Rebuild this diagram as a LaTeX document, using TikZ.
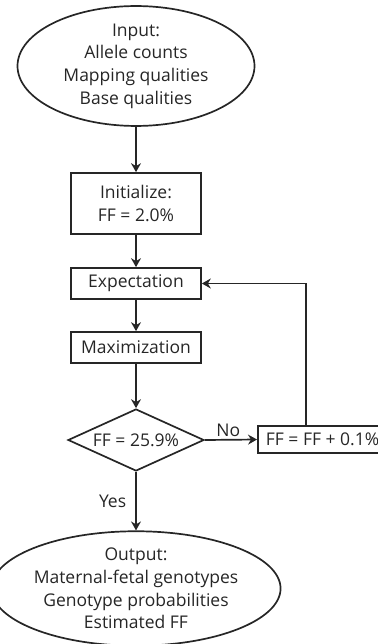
\documentclass[tikz,border=0pt]{standalone}
\usepackage{fontspec}
\setmainfont{Open Sans}
\usetikzlibrary{shapes.geometric,arrows.meta}
\tikzset{
  lbl/.style={font={\fontsize{17.5}{22.7}\selectfont}, text=black!85},
  base/.style={lbl, draw=black!85, line width=1.7pt, align=center},
  oval/.style={base, ellipse, inner sep=0pt},
  boxx/.style={base, rectangle, inner sep=0pt},
  dec/.style={base, diamond, inner sep=0pt, shape aspect=2.2},
  arr/.style={draw=black!85, line width=1.7pt, -{Stealth[length=9pt,width=10pt,inset=3pt]}}
}
\begin{document}
\begin{tikzpicture}[x=1pt,y=-1pt]
\useasboundingbox (0,0) rectangle (377,644);
\node[oval, minimum width=237pt, minimum height=112pt] (in) at (136,66) {Input:\\Allele counts\\Mapping qualities\\Base qualities};
\node[boxx, minimum width=130pt, minimum height=61pt] (init) at (136,203.5) {Initialize:\\FF = 2.0\%};
\node[boxx, minimum width=130pt, minimum height=31pt] (exp) at (136,283.5) {Expectation};
\node[boxx, minimum width=130pt, minimum height=31pt] (max) at (136,347.5) {Maximization};
\node[dec, minimum width=136pt, minimum height=62pt] (chk) at (136,440) {FF = 25.9\%};
\node[boxx, anchor=west, inner xsep=8pt, minimum height=27pt] (inc) at (257,439.5) {FF = FF + 0.1\%};
\node[oval, minimum width=246pt, minimum height=107pt] (out) at (136,588.5) {Output:\\Maternal-fetal genotypes\\Genotype probabilities\\Estimated FF};
\draw[arr] (in.south) -- (init.north);
\draw[arr] (init.south) -- (exp.north);
\draw[arr] (exp.south) -- (max.north);
\draw[arr] (max.south) -- (chk.north);
\draw[arr] (chk.east) -- node[lbl, above, pos=0.45, inner sep=2pt] (no) {No} (inc.west);
\draw[arr] ([xshift=49pt]inc.north west) |- (exp.east);
\draw[arr] (chk.south) -- node[lbl, left, inner sep=9pt] (yes) {Yes} (out.north);
\end{tikzpicture}
\end{document}
